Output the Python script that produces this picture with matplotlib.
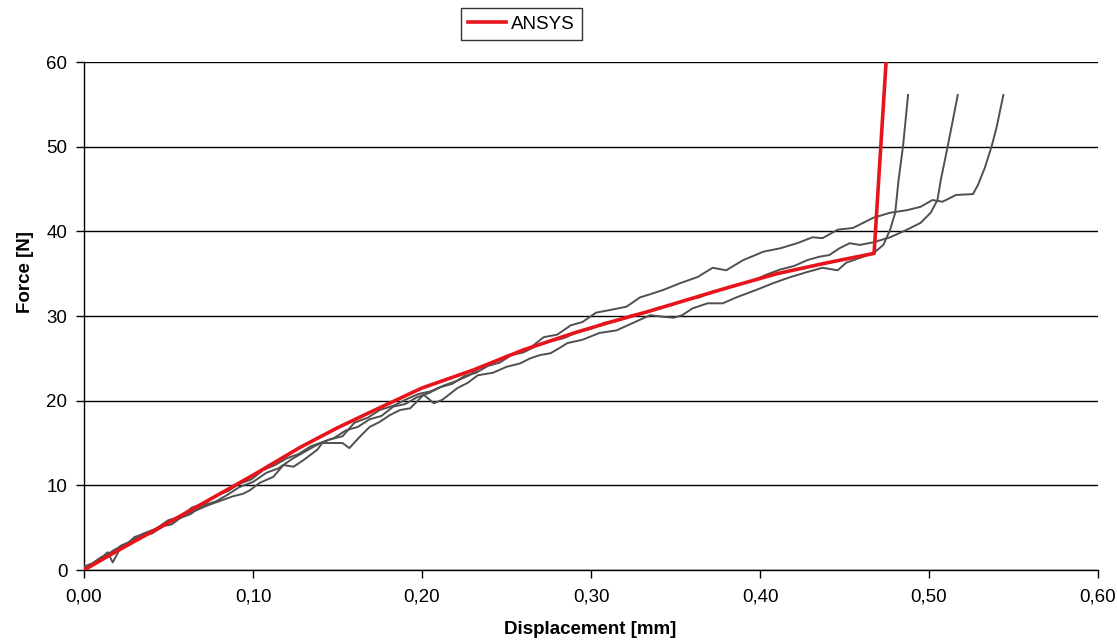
import matplotlib
matplotlib.use("Agg")
import matplotlib.pyplot as plt
from matplotlib.ticker import FuncFormatter

plt.rcParams['font.family'] = ['Liberation Sans', 'DejaVu Sans']

# ANSYS simulation
ansys_x = [0, 0.02, 0.05, 0.10, 0.128, 0.15, 0.17, 0.20, 0.23, 0.26, 0.29, 0.31,
           0.335, 0.355, 0.38, 0.41, 0.44, 0.4675, 0.4746]
ansys_y = [0, 2.3, 5.6, 11.2, 14.5, 16.8, 18.7, 21.5, 23.6, 26.0, 28.0, 29.2,
           30.6, 31.8, 33.3, 35.0, 36.3, 37.4, 60.0]

# Experimental test 1
exp1_x = [0.000, 0.006, 0.012, 0.018, 0.025, 0.032, 0.040, 0.048, 0.055, 0.063, 0.070,
          0.078, 0.085, 0.092, 0.100, 0.108, 0.115, 0.123, 0.130, 0.138, 0.145, 0.153,
          0.160, 0.168, 0.175, 0.183, 0.190, 0.198, 0.205, 0.213, 0.220, 0.228, 0.235,
          0.243, 0.250, 0.258, 0.265, 0.272, 0.280, 0.288, 0.295, 0.303, 0.311, 0.321,
          0.329, 0.337, 0.343, 0.353, 0.363, 0.372, 0.380, 0.390, 0.402, 0.412, 0.422,
          0.431, 0.437, 0.446, 0.455, 0.467, 0.477, 0.487, 0.495, 0.502, 0.508, 0.516,
          0.526, 0.529, 0.533, 0.537, 0.540, 0.544]
exp1_y = [0.0, 0.9, 1.6, 2.4, 3.0, 3.9, 4.3, 5.3, 6.0, 6.6, 7.6,
          8.1, 8.9, 9.8, 10.4, 11.5, 12.0, 13.1, 13.9, 14.8, 15.4, 15.8,
          17.4, 18.0, 18.9, 19.4, 20.1, 20.8, 21.1, 21.8, 22.3, 23.0, 24.0,
          24.6, 25.3, 25.8, 26.4, 27.5, 27.8, 28.9, 29.3, 30.4, 30.7, 31.1,
          32.2, 32.7, 33.1, 33.9, 34.6, 35.7, 35.4, 36.6, 37.6, 38.0, 38.6,
          39.3, 39.2, 40.2, 40.4, 41.6, 42.2, 42.5, 42.9, 43.7, 43.5, 44.3,
          44.4, 45.5, 47.5, 50.0, 52.3, 56.1]

# Experimental test 2
exp2_x = [0.000, 0.005, 0.010, 0.016, 0.022, 0.028, 0.035, 0.042, 0.050, 0.057, 0.064,
          0.071, 0.078, 0.085, 0.092, 0.099, 0.106, 0.113, 0.120, 0.127, 0.134, 0.141,
          0.148, 0.155, 0.162, 0.169, 0.176, 0.183, 0.190, 0.197, 0.204, 0.211, 0.218,
          0.225, 0.232, 0.239, 0.246, 0.253, 0.260, 0.268, 0.276, 0.284, 0.292, 0.300,
          0.308, 0.316, 0.324, 0.332, 0.340, 0.348, 0.356, 0.364, 0.372, 0.380, 0.388,
          0.396, 0.404, 0.412, 0.420, 0.428, 0.435, 0.441, 0.447, 0.453, 0.459, 0.467,
          0.477, 0.487, 0.495, 0.501, 0.505, 0.507, 0.510, 0.513, 0.517]
exp2_y = [0.4, 0.8, 1.5, 2.0, 2.9, 3.4, 4.3, 4.8, 5.9, 6.3, 7.4,
          7.8, 8.8, 9.3, 10.2, 10.7, 11.8, 12.4, 13.2, 13.7, 14.6, 15.1,
          15.6, 16.5, 16.9, 17.8, 18.2, 19.3, 19.6, 20.4, 20.9, 21.6, 22.0,
          22.9, 23.3, 24.1, 24.5, 25.4, 25.7, 26.5, 27.0, 27.4, 28.1, 28.5,
          29.2, 29.5, 30.1, 30.4, 31.0, 31.3, 31.9, 32.2, 32.9, 33.2, 33.8,
          34.2, 34.9, 35.5, 35.9, 36.6, 37.0, 37.2, 38.0, 38.6, 38.4, 38.7,
          39.3, 40.2, 41.0, 42.2, 43.7, 46.1, 49.0, 52.0, 56.1]

# Experimental test 3
exp3_x = [0.000, 0.004, 0.009, 0.014, 0.017, 0.021, 0.026, 0.030, 0.037, 0.045, 0.052,
          0.060, 0.067, 0.074, 0.081, 0.088, 0.094, 0.098, 0.104, 0.112, 0.118, 0.124,
          0.130, 0.138, 0.141, 0.153, 0.157, 0.163, 0.169, 0.175, 0.181, 0.187, 0.193,
          0.201, 0.207, 0.212, 0.221, 0.227, 0.233, 0.242, 0.250, 0.258, 0.264, 0.270,
          0.276, 0.282, 0.286, 0.295, 0.305, 0.315, 0.325, 0.335, 0.343, 0.349, 0.354,
          0.360, 0.369, 0.378, 0.386, 0.398, 0.408, 0.418, 0.428, 0.437, 0.446, 0.451,
          0.461, 0.467, 0.473, 0.477, 0.480, 0.482, 0.4846, 0.4876]
exp3_y = [0.2, 0.6, 1.2, 2.1, 0.9, 2.4, 3.2, 3.9, 4.4, 5.1, 5.4,
          6.6, 7.1, 7.7, 8.2, 8.7, 9.0, 9.4, 10.3, 11.0, 12.4, 12.2,
          13.0, 14.2, 15.0, 15.0, 14.4, 15.7, 16.9, 17.5, 18.3, 18.9, 19.1,
          20.7, 19.7, 20.1, 21.5, 22.1, 23.0, 23.3, 24.0, 24.4, 25.0, 25.4,
          25.6, 26.3, 26.8, 27.2, 28.0, 28.3, 29.2, 30.1, 29.9, 29.8, 30.1,
          30.9, 31.5, 31.5, 32.2, 33.1, 33.9, 34.6, 35.2, 35.7, 35.4, 36.3,
          37.0, 37.4, 38.4, 40.2, 42.2, 46.1, 50.0, 56.1]

x_ticks = [0.0, 0.1, 0.2, 0.3, 0.4, 0.5, 0.6]
y_ticks = [0, 10, 20, 30, 40, 50, 60]

fig = plt.figure(figsize=(11.17, 6.42), dpi=100)
ax = fig.add_axes([0.0752, 0.1121, 0.9078, 0.7913])

for ex, ey in [(exp1_x, exp1_y), (exp2_x, exp2_y), (exp3_x, exp3_y)]:
    ax.plot(ex, ey, color='#505050', lw=1.4, zorder=3)

line, = ax.plot(ansys_x, ansys_y, color='#e8141c', lw=2.6, zorder=4, label='ANSYS')

ax.set_xlim(0, 0.6)
ax.set_ylim(0, 60)
ax.set_xticks(x_ticks)
ax.set_yticks(y_ticks)
ax.xaxis.set_major_formatter(FuncFormatter(lambda v, p: f"{v:.2f}".replace('.', ',')))
ax.yaxis.set_major_formatter(FuncFormatter(lambda v, p: f"{v:.0f}"))
ax.grid(axis='y', color='black', lw=1.0, zorder=1)
ax.set_axisbelow(True)
for s in ['top', 'right']:
    ax.spines[s].set_visible(False)
for s in ['left', 'bottom']:
    ax.spines[s].set_color('black')
    ax.spines[s].set_linewidth(1.0)
ax.tick_params(axis='both', direction='out', length=6, width=1.0, labelsize=13.5,
               colors='black')
ax.tick_params(axis='x', pad=7)
ax.tick_params(axis='y', pad=6)

fig.text(590 / 1117, 1 - 630 / 642, 'Displacement [mm]', fontsize=13.5,
         fontweight='bold', ha='center', va='center')
fig.text(25 / 1117, 1 - 272 / 642, 'Force [N]', fontsize=13.5, fontweight='bold',
         ha='center', va='center', rotation=90)

leg = fig.legend(handles=[line], loc='center', bbox_to_anchor=(521.5 / 1117, 1 - 24 / 642),
                 frameon=True, fancybox=False, fontsize=13.5, handlelength=2.0,
                 borderpad=0.4, handletextpad=0.3)
leg.get_frame().set_edgecolor('black')
leg.get_frame().set_linewidth(1.0)

fig.savefig('out.png', dpi=100)
